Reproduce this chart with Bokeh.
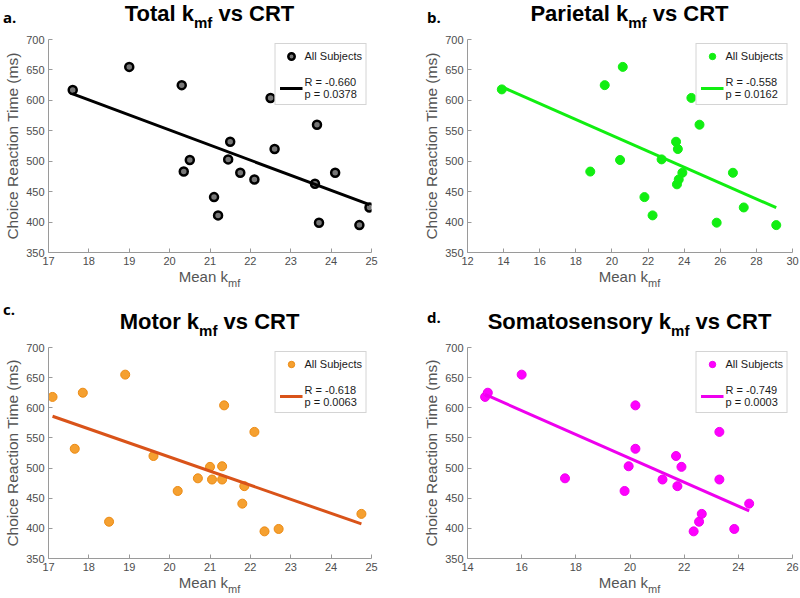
import numpy as np
from bokeh.plotting import figure
from bokeh.layouts import column, row
from bokeh.models import Div, Range1d, FixedTicker, Legend, LegendItem
from bokeh.embed import file_html
from bokeh.resources import INLINE

# ---------------- data ----------------
y_ticks = [350, 400, 450, 500, 550, 600, 650, 700]

total_x = [17.6, 19.0, 20.3, 20.35, 20.5, 21.1, 21.2, 21.45, 21.5, 21.75, 22.1, 22.5, 22.6, 23.6, 23.65, 23.7, 24.1, 24.7, 24.95]
total_y = [617, 655, 625, 483, 502, 441, 411, 503, 532, 481, 470, 604, 520, 463, 560, 399, 481, 395, 424]
total_ticks = [17, 18, 19, 20, 21, 22, 23, 24, 25]

parietal_x = [13.9, 18.8, 19.6, 20.45, 20.6, 21.8, 22.25, 22.75, 23.55, 23.65, 23.6, 23.7, 23.9, 24.4, 24.85, 25.8, 26.7, 27.3, 29.1]
parietal_y = [618, 483, 625, 502, 655, 441, 411, 503, 532, 520, 462, 470, 481, 604, 560, 399, 481, 424, 395]
parietal_ticks = [12, 14, 16, 18, 20, 22, 24, 26, 28, 30]

motor_x = [17.1, 17.65, 17.85, 18.5, 18.9, 19.6, 20.2, 20.7, 21.0, 21.05, 21.3, 21.3, 21.35, 21.8, 21.85, 22.1, 22.35, 22.7, 24.75]
motor_y = [618, 532, 625, 411, 655, 520, 462, 483, 502, 481, 503, 481, 604, 441, 470, 560, 395, 399, 424]
motor_ticks = [17, 18, 19, 20, 21, 22, 23, 24, 25]

somato_x = [14.65, 14.75, 16.0, 17.6, 19.8, 19.95, 20.2, 20.2, 21.2, 21.7, 21.75, 21.9, 22.35, 22.55, 22.65, 23.3, 23.3, 23.85, 24.4]
somato_y = [618, 625, 655, 483, 462, 503, 532, 604, 481, 520, 470, 502, 395, 411, 424, 560, 481, 399, 441]
somato_ticks = [14, 16, 18, 20, 22, 24, 26]

letters = ["a.", "b.", "c.", "d."]
regions = ["Total", "Parietal", "Motor", "Somatosensory"]
r_labels = ["R = -0.660", "R = -0.558", "R = -0.618", "R = -0.749"]
p_labels = ["p = 0.0378", "p = 0.0162", "p = 0.0063", "p = 0.0003"]
legend_label = "All Subjects"
y_label = "Choice Reaction Time (ms)"

FONT = "Liberation Sans"
W = 400


def make_fig(x, y, ticks, height, frame_left, frame_right_border, fill, edge, lw_marker, size, line_color, r_lab, p_lab):
    p = figure(width=W, height=height, x_range=Range1d(ticks[0], ticks[-1]), y_range=Range1d(y_ticks[0], y_ticks[-1]),
               output_backend="svg", toolbar_location=None,
               min_border_left=frame_left, min_border_right=frame_right_border,
               min_border_top=7, min_border_bottom=18,
               outline_line_color=None, background_fill_color="white", border_fill_color="white")
    p.grid.visible = False
    for ax in (p.xaxis, p.yaxis):
        ax.axis_line_color = "#9a9a9a"
        ax.major_tick_line_color = "#9a9a9a"
        ax.major_tick_in = 4
        ax.major_tick_out = 0
        ax.minor_tick_line_color = None
        ax.major_label_text_font = FONT
        ax.major_label_text_font_size = "11px"
        ax.major_label_text_color = "#4d4d4d"
        ax.major_label_standoff = 4
    p.xaxis.ticker = FixedTicker(ticks=ticks)
    p.yaxis.ticker = FixedTicker(ticks=y_ticks)
    p.yaxis.axis_label = y_label
    p.yaxis.axis_label_text_font = FONT
    p.yaxis.axis_label_text_font_size = "15.5px"
    p.yaxis.axis_label_text_font_style = "normal"
    p.yaxis.axis_label_text_color = "#555555"
    p.yaxis.axis_label_standoff = 2

    xa = np.array(x, dtype=float)
    ya = np.array(y, dtype=float)
    slope, icept = np.polyfit(xa, ya, 1)
    xl = np.array([xa.min(), xa.max()])
    yl = slope * xl + icept

    sc = p.scatter(x, y, marker="circle", size=size, fill_color=fill, line_color=edge, line_width=lw_marker)
    ln = p.line(xl, yl, line_color=line_color, line_width=3)

    legend = Legend(items=[LegendItem(label=legend_label, renderers=[sc]),
                           LegendItem(label=r_lab + "\n" + p_lab, renderers=[ln])],
                    location="top_right", margin=4, padding=4, spacing=12,
                    glyph_width=23, glyph_height=16, label_height=16, label_standoff=2,
                    label_text_font=FONT, label_text_font_size="11px", label_text_color="#1a1a1a",
                    label_text_line_height=1.35,
                    border_line_color="#aaaaaa", border_line_width=1,
                    background_fill_color="white", background_fill_alpha=1.0)
    p.add_layout(legend, "center")
    return p


def header(letter, name, height, letter_left, letter_top, title_top, frame_left, frame_w):
    html = (
        f'<div style="position:relative;width:{W}px;height:{height}px;">'
        f'<div style="position:absolute;left:{letter_left}px;top:{letter_top}px;font-family:\'Open Sans\';'
        f'font-weight:bold;font-size:15px;line-height:15px;color:#000;">{letter}</div>'
        f'<div style="position:absolute;left:{frame_left}px;width:{frame_w}px;top:{title_top}px;text-align:center;'
        f'font-family:\'{FONT}\';font-weight:bold;font-size:22px;line-height:26px;color:#000;white-space:nowrap;">'
        f'{name} k<span style="font-size:15px;position:relative;top:7px;">mf</span> vs CRT</div></div>'
    )
    return Div(text=html, width=W, height=height, margin=0)


def xlabel(height, frame_left, frame_w):
    html = (
        f'<div style="position:relative;width:{W}px;height:{height}px;">'
        f'<div style="position:absolute;left:{frame_left}px;width:{frame_w}px;top:0px;text-align:center;'
        f'font-family:\'{FONT}\';font-size:15px;line-height:14px;color:#555555;white-space:nowrap;">'
        f'Mean k<span style="font-size:11px;position:relative;top:5px;">mf</span></div></div>'
    )
    return Div(text=html, width=W, height=height, margin=0)


# column geometry
LB_L, RB_L = 48, 29
LB_R, RB_R = 67, 8
FW_L = W - LB_L - RB_L
FW_R = W - LB_R - RB_R

fa = make_fig(total_x, total_y, total_ticks, 238, LB_L, RB_L, "#777777", "black", 2.5, 8, "black", r_labels[0], p_labels[0])
fb = make_fig(parietal_x, parietal_y, parietal_ticks, 238, LB_R, RB_R, "#11ee11", "#11ee11", 1, 9, "#11ee11", r_labels[1], p_labels[1])
fc = make_fig(motor_x, motor_y, motor_ticks, 236, LB_L, RB_L, "#f5a030", "#ec8a12", 1, 9, "#d95319", r_labels[2], p_labels[2])
fd = make_fig(somato_x, somato_y, somato_ticks, 236, LB_R, RB_R, "#ff00ff", "#ee00ee", 1, 9, "#ee00ee", r_labels[3], p_labels[3])

pa = column(header(letters[0], regions[0], 32, 3, 10, 1, LB_L, FW_L), fa, xlabel(30, LB_L, FW_L))
pb = column(header(letters[1], regions[1], 32, 27, 10, 1, LB_R, FW_R), fb, xlabel(30, LB_R, FW_R))
pc = column(header(letters[2], regions[2], 40, 3, 2, 9, LB_L, FW_L), fc, xlabel(22, LB_L, FW_L))
pd = column(header(letters[3], regions[3], 40, 27, 10, 9, LB_R, FW_R), fd, xlabel(22, LB_R, FW_R))

layout = column(row(pa, pb), row(pc, pd))

open("out.html", "w").write(file_html(layout, INLINE))
